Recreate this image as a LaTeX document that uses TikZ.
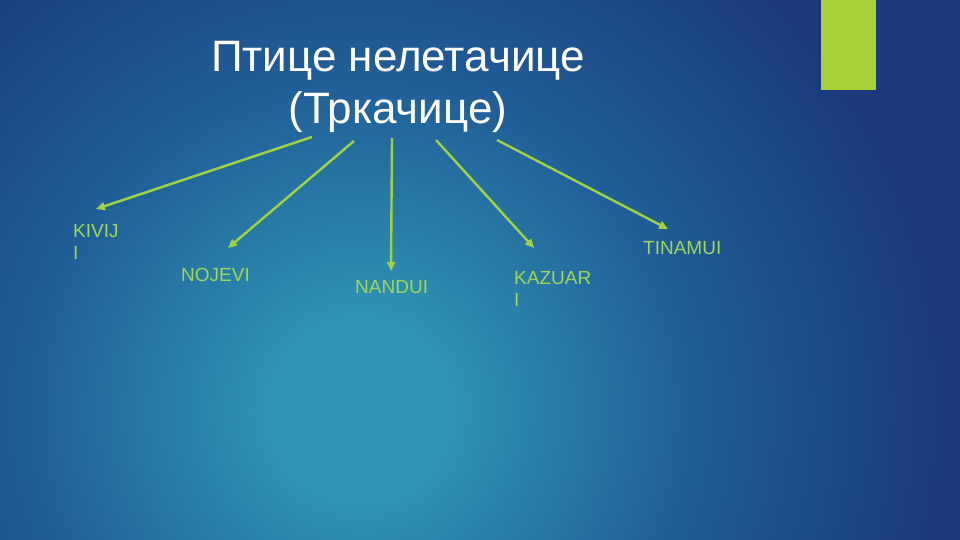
\documentclass[tikz,border=0pt]{standalone}
\usepackage{fontspec}
\setmainfont{Liberation Sans}
\usetikzlibrary{arrows.meta}
\definecolor{bgc}{HTML}{2E94B4}
\definecolor{bgm}{HTML}{215F98}
\definecolor{bgo}{HTML}{1A3A7C}
\definecolor{accent}{HTML}{A8D13A}
\definecolor{arrowgreen}{HTML}{A2D144}
\definecolor{labelgreen}{HTML}{A0D65A}
\pgfdeclareradialshading{bgshade}{\pgfpoint{0bp}{0bp}}{color(0bp)=(bgc); color(4bp)=(bgc); color(14bp)=(bgm); color(25bp)=(bgo); color(50bp)=(bgo)}
\tikzset{
  title/.style={text=white, font=\fontsize{44}{52}\selectfont, align=center, inner sep=0pt},
  label/.style={text=labelgreen, font=\fontsize{19}{22}\selectfont, align=left, inner sep=0pt, anchor=base west},
  conn/.style={draw=arrowgreen, line width=2.4pt, -{Triangle[length=9pt,width=8pt]}}
}
\begin{document}
\begin{tikzpicture}[x=1pt,y=-1pt]
\useasboundingbox (0,0) rectangle (960,540);
\begin{scope}
\clip (0,0) rectangle (960,540);
\fill[bgo] (0,0) rectangle (960,540);
\shade[shading=bgshade] (360,410) circle (580);
\end{scope}
\fill[accent] (821,0) rectangle (876,90);
\node[title] (t) at (398,87) {Птице нелетачице\\(Тркачице)};
\coordinate (s1) at (312,137);
\coordinate (s2) at (354,141);
\coordinate (s3) at (392,138);
\coordinate (s4) at (436,140);
\coordinate (s5) at (497,140);
\coordinate (e1) at (96,209);
\coordinate (e2) at (228,248);
\coordinate (e3) at (391,271);
\coordinate (e4) at (534,248);
\coordinate (e5) at (668,229);
\node[label] (kivi) at (73,259) {KIVIJ\\I};
\node[label] (noj) at (181,281.5) {NOJEVI};
\node[label] (nan) at (355,293) {NANDUI};
\node[label] (kaz) at (514,306) {KAZUAR\\I};
\node[label] (tin) at (643,254) {TINAMUI};
\draw[conn] (s1) -- (e1);
\draw[conn] (s2) -- (e2);
\draw[conn] (s3) -- (e3);
\draw[conn] (s4) -- (e4);
\draw[conn] (s5) -- (e5);
\end{tikzpicture}
\end{document}
